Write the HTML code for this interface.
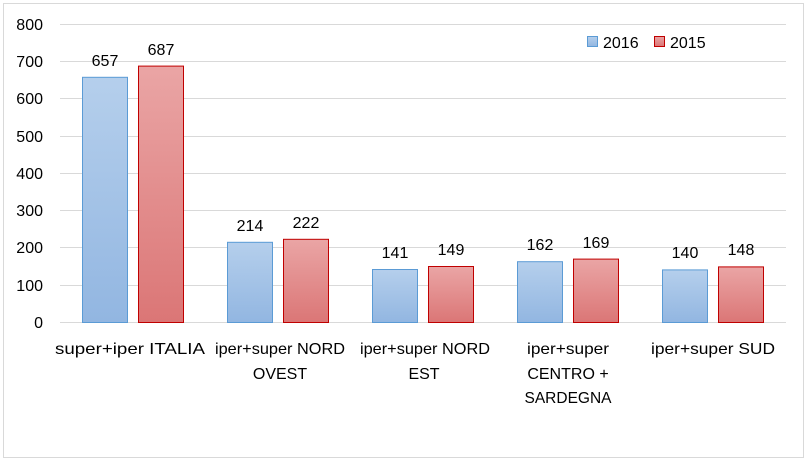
<!DOCTYPE html>
<html><head><meta charset="utf-8"><style>
body{margin:0;background:#fff}
svg{display:block;font-family:"Liberation Sans",sans-serif;}
</style></head><body>
<svg width="808" height="462" viewBox="0 0 808 462">
<defs>
<linearGradient id="b" x1="0" y1="0" x2="0" y2="1"><stop offset="0" stop-color="#b5cfec"/><stop offset="1" stop-color="#92b6e1"/></linearGradient>
<linearGradient id="r" x1="0" y1="0" x2="0" y2="1"><stop offset="0" stop-color="#eaa5a5"/><stop offset="1" stop-color="#db7676"/></linearGradient>
</defs>
<rect x="3.5" y="3.5" width="800" height="454" fill="#fff" stroke="#d9d9d9"/>
<g stroke="#d9d9d9" stroke-width="1">
<line x1="60" x2="786" y1="24.5" y2="24.5"/><line x1="60" x2="786" y1="61.5" y2="61.5"/>
<line x1="60" x2="786" y1="98.5" y2="98.5"/><line x1="60" x2="786" y1="136.5" y2="136.5"/>
<line x1="60" x2="786" y1="173.5" y2="173.5"/><line x1="60" x2="786" y1="210.5" y2="210.5"/>
<line x1="60" x2="786" y1="247.5" y2="247.5"/><line x1="60" x2="786" y1="285.5" y2="285.5"/>
<line x1="60" x2="786" y1="322.5" y2="322.5"/>
</g>
<g font-size="16" fill="#000" text-anchor="end">
<text x="43" y="30">800</text><text x="43" y="67">700</text><text x="43" y="104">600</text>
<text x="43" y="142">500</text><text x="43" y="179">400</text><text x="43" y="216">300</text>
<text x="43" y="253">200</text><text x="43" y="291">100</text><text x="43" y="328">0</text>
</g>
<g stroke-width="1">
<rect x="82.5" y="77.3" width="45" height="245.2" fill="url(#b)" stroke="#5b9bd5"/>
<rect x="138.5" y="66.1" width="45" height="256.4" fill="url(#r)" stroke="#c00000"/>
<rect x="227.5" y="242.3" width="45" height="80.2" fill="url(#b)" stroke="#5b9bd5"/>
<rect x="283.5" y="239.3" width="45" height="83.2" fill="url(#r)" stroke="#c00000"/>
<rect x="372.5" y="269.5" width="45" height="53" fill="url(#b)" stroke="#5b9bd5"/>
<rect x="428.5" y="266.5" width="45" height="56" fill="url(#r)" stroke="#c00000"/>
<rect x="517.5" y="261.7" width="45" height="60.8" fill="url(#b)" stroke="#5b9bd5"/>
<rect x="573.5" y="259.1" width="45" height="63.4" fill="url(#r)" stroke="#c00000"/>
<rect x="662.5" y="269.9" width="45" height="52.6" fill="url(#b)" stroke="#5b9bd5"/>
<rect x="718.5" y="266.9" width="45" height="55.6" fill="url(#r)" stroke="#c00000"/>
</g>
<g font-size="16" fill="#000" text-anchor="middle">
<text x="105" y="66">657</text><text x="161" y="55">687</text>
<text x="250" y="231">214</text><text x="306" y="228">222</text>
<text x="395" y="258">141</text><text x="451" y="255">149</text>
<text x="540" y="250">162</text><text x="596" y="248">169</text>
<text x="685" y="258">140</text><text x="741" y="255">148</text>
</g>
<g font-size="16" fill="#000" text-anchor="middle">
<text x="130" y="354" textLength="150" lengthAdjust="spacingAndGlyphs">super+iper ITALIA</text>
<text x="280" y="354" textLength="130" lengthAdjust="spacingAndGlyphs">iper+super NORD</text>
<text x="280" y="379">OVEST</text>
<text x="425" y="354" textLength="130" lengthAdjust="spacingAndGlyphs">iper+super NORD</text>
<text x="424" y="379">EST</text>
<text x="568" y="354" textLength="82" lengthAdjust="spacingAndGlyphs">iper+super</text>
<text x="568" y="379">CENTRO +</text>
<text x="568" y="403" textLength="87" lengthAdjust="spacingAndGlyphs">SARDEGNA</text>
<text x="713" y="354" textLength="124" lengthAdjust="spacingAndGlyphs">iper+super SUD</text>
</g>
<rect x="587.5" y="36.5" width="10" height="10" fill="url(#b)" stroke="#5b9bd5"/>
<text x="603" y="48" font-size="16">2016</text>
<rect x="654.5" y="36.5" width="10" height="10" fill="url(#r)" stroke="#c00000"/>
<text x="670" y="48" font-size="16">2015</text>
</svg>
</body></html>
